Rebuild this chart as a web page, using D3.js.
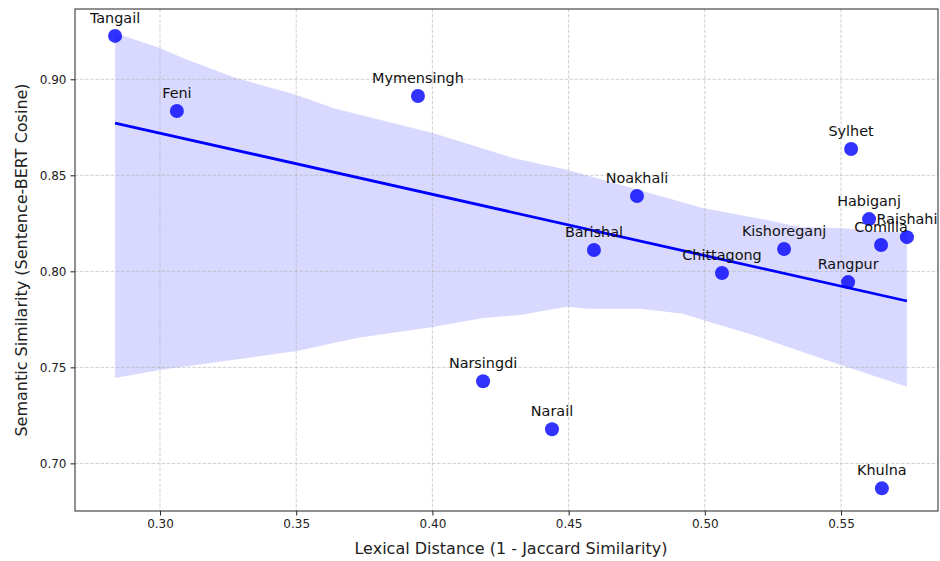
<!DOCTYPE html>
<html>
<head>
<meta charset="utf-8">
<script src="https://cdn.jsdelivr.net/npm/d3@7"></script>
<style>
  body { margin: 0; background: #fff; }
  text { font-family: 'DejaVu Sans', sans-serif; }
</style>
</head>
<body>
<div id="chart"></div>
<script>
/* global d3 */

// districts
const regions = ['Tangail', 'Feni', 'Mymensingh', 'Sylhet', 'Noakhali', 'Habiganj', 'Raishahi',
  'Comilla', 'Kishoreganj', 'Barishal', 'Chittagong', 'Rangpur', 'Narsingdi', 'Narail', 'Khulna'];
const lexical = [0.2835, 0.3062, 0.3947, 0.5537, 0.4751, 0.5603, 0.5742,
  0.5647, 0.5291, 0.4593, 0.5063, 0.5526, 0.4186, 0.4439, 0.5650];
const semantic = [0.9226, 0.8835, 0.8913, 0.8637, 0.8392, 0.8272, 0.8178,
  0.8137, 0.8116, 0.8111, 0.7991, 0.7944, 0.7428, 0.7178, 0.6870];

// confidence band edges (estimated)
const bandUpperX = [0.2835, 0.300, 0.3084, 0.3268, 0.3503, 0.3635, 0.4002, 0.4296,
  0.4498, 0.4993, 0.5228, 0.5349, 0.5496, 0.5742];
const bandUpperY = [0.9241, 0.9163, 0.9111, 0.9012, 0.8918, 0.8850, 0.8720, 0.8590,
  0.8527, 0.8330, 0.8267, 0.8231, 0.8225, 0.8199];
const bandLowerX = [0.2835, 0.300, 0.3503, 0.3723, 0.4002, 0.4186, 0.4322, 0.4494,
  0.4567, 0.4762, 0.4920, 0.4993, 0.5177, 0.5412, 0.5496, 0.5742];
const bandLowerY = [0.7444, 0.7486, 0.7585, 0.7653, 0.7710, 0.7757, 0.7773, 0.7815,
  0.7805, 0.7805, 0.7779, 0.7747, 0.7669, 0.7554, 0.7513, 0.7399];

const xTicks = [0.30, 0.35, 0.40, 0.45, 0.50, 0.55];
const yTicks = [0.70, 0.75, 0.80, 0.85, 0.90];

const width = 940;
const height = 561;
const margin = {
  top: 9, right: 2, bottom: 50, left: 75,
};

const x = d3.scaleLinear()
  .domain([0.2688, 0.5856])
  .range([margin.left, width - margin.right]);

const y = d3.scaleLinear()
  .domain([0.6752, 0.9366])
  .range([height - margin.bottom, margin.top]);

const svg = d3.select('#chart')
  .append('svg')
  .attr('width', width)
  .attr('height', height);

// band
const upper = bandUpperX.map((d, i) => [d, bandUpperY[i]]);
const lower = bandLowerX.map((d, i) => [d, bandLowerY[i]]).reverse();
svg.append('path')
  .attr('d', d3.line().x((d) => x(d[0])).y((d) => y(d[1]))(upper.concat(lower)) + 'Z')
  .attr('fill', '#0000ff')
  .attr('fill-opacity', 0.15);

// grid
svg.append('g')
  .selectAll('line')
  .data(xTicks)
  .enter()
  .append('line')
  .attr('x1', (d) => x(d))
  .attr('x2', (d) => x(d))
  .attr('y1', margin.top)
  .attr('y2', height - margin.bottom)
  .attr('stroke', '#b0b0b0')
  .attr('stroke-opacity', 0.6)
  .attr('stroke-dasharray', '3.5,1.6');

svg.append('g')
  .selectAll('line')
  .data(yTicks)
  .enter()
  .append('line')
  .attr('x1', margin.left)
  .attr('x2', width - margin.right)
  .attr('y1', (d) => y(d))
  .attr('y2', (d) => y(d))
  .attr('stroke', '#b0b0b0')
  .attr('stroke-opacity', 0.6)
  .attr('stroke-dasharray', '3.5,1.6');

// points
svg.append('g')
  .selectAll('circle')
  .data(regions)
  .enter()
  .append('circle')
  .attr('cx', (d, i) => x(lexical[i]))
  .attr('cy', (d, i) => y(semantic[i]))
  .attr('r', 7)
  .attr('fill', '#0000ff')
  .attr('fill-opacity', 0.8);

// least squares fit
const mx = d3.mean(lexical);
const my = d3.mean(semantic);
const sxy = d3.sum(lexical, (d, i) => (d - mx) * (semantic[i] - my));
const sxx = d3.sum(lexical, (d) => (d - mx) ** 2);
const slope = sxy / sxx;
const fitX = d3.extent(lexical);
svg.append('path')
  .attr('d', d3.line().x((d) => x(d)).y((d) => y(my + slope * (d - mx)))(fitX))
  .attr('stroke', '#0000ff')
  .attr('stroke-width', 2.8)
  .attr('fill', 'none');

// labels
svg.append('g')
  .selectAll('text')
  .data(regions)
  .enter()
  .append('text')
  .attr('x', (d, i) => x(lexical[i]))
  .attr('y', (d, i) => y(semantic[i]) - 13)
  .attr('text-anchor', 'middle')
  .style('font-size', '14.4px')
  .attr('fill', '#111')
  .text((d) => d);

// axes
const xAxis = svg.append('g')
  .attr('transform', `translate(0,${height - margin.bottom})`)
  .call(d3.axisBottom(x).tickValues(xTicks).tickFormat(d3.format('.2f'))
    .tickSize(4.5).tickPadding(4));
const yAxis = svg.append('g')
  .attr('transform', `translate(${margin.left},0)`)
  .call(d3.axisLeft(y).tickValues(yTicks).tickFormat(d3.format('.2f'))
    .tickSize(4.5).tickPadding(4));
[xAxis, yAxis].forEach((a) => {
  a.select('.domain').remove();
  a.selectAll('text')
    .style('font-size', '12px')
    .style('font-family', 'DejaVu Sans, sans-serif')
    .attr('fill', '#222');
  a.selectAll('line').attr('stroke', '#222');
});

// frame
svg.append('rect')
  .attr('x', margin.left)
  .attr('y', margin.top)
  .attr('width', width - margin.left - margin.right)
  .attr('height', height - margin.top - margin.bottom)
  .attr('fill', 'none')
  .attr('stroke', '#222')
  .attr('stroke-width', 1);

svg.append('text')
  .attr('x', 511)
  .attr('y', 554)
  .attr('text-anchor', 'middle')
  .style('font-size', '16px')
  .attr('fill', '#222')
  .text('Lexical Distance (1 - Jaccard Similarity)');

svg.append('text')
  .attr('transform', `translate(27,${(margin.top + height - margin.bottom) / 2}) rotate(-90)`)
  .attr('text-anchor', 'middle')
  .style('font-size', '16px')
  .attr('fill', '#222')
  .text('Semantic Similarity (Sentence-BERT Cosine)');
</script>
</body>
</html>
